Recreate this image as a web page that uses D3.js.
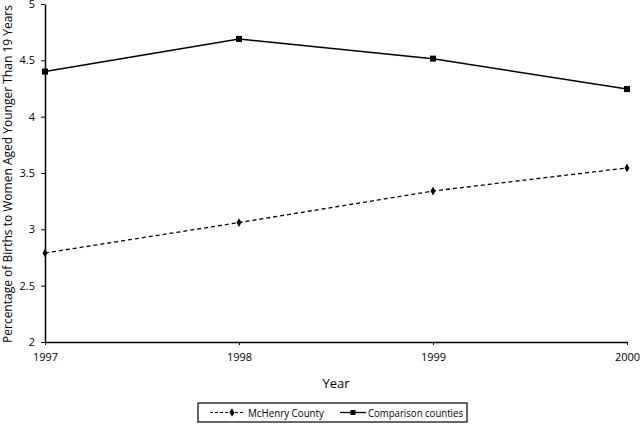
<!DOCTYPE html>
<html>
<head>
<meta charset="utf-8">
<script src="https://cdn.jsdelivr.net/npm/d3@7"></script>
<style>
  body { margin: 0; background: #fff; }
  text { font-family: "Open Sans", sans-serif; fill: #000; }
</style>
</head>
<body>
<div id="chart"></div>
<script>
// donnees
var years = [1997, 1998, 1999, 2000];
var mchenry = [2.79, 3.06, 3.34, 3.545];
var comparison = [4.40, 4.69, 4.515, 4.245];
var yTicks = [2, 2.5, 3, 3.5, 4, 4.5, 5];

const width = 640, height = 432;
const margin = { top: 4, right: 13, bottom: 90, left: 45 };

var svg = d3.select("#chart")
  .append("svg")
  .attr("width", width)
  .attr("height", height);

var x = d3.scaleLinear()
  .domain([1997, 2000])
  .range([margin.left, width - margin.right]);

var y = d3.scaleLinear()
  .domain([2, 5])
  .range([height - margin.bottom, margin.top]);

// axe x
var xAxis = svg.append("g")
  .attr("transform", "translate(0," + (height - margin.bottom) + ")")
  .call(d3.axisBottom(x).tickValues(years).tickFormat(d3.format("d")).tickSizeInner(3).tickSizeOuter(0).tickPadding(8));

// axe y
var yAxis = svg.append("g")
  .attr("transform", "translate(" + margin.left + ",0)")
  .call(d3.axisLeft(y).tickValues(yTicks).tickFormat(function (d) { return d; }).tickSizeInner(4).tickSizeOuter(0).tickPadding(6));

[xAxis, yAxis].forEach(function (a) {
  a.select(".domain").attr("stroke", "#000").attr("stroke-width", 1.5);
  a.selectAll(".tick line").attr("stroke", "#000");
  a.selectAll(".tick text").style("font-size", "11px").attr("fill", "#000");
});

// titres
svg.append("text")
  .attr("x", (x(1997) + x(2000)) / 2)
  .attr("y", 388)
  .attr("text-anchor", "middle")
  .style("font-size", "13px")
  .text("Year");

svg.append("text")
  .attr("transform", "translate(12," + ((y(2) + y(5)) / 2 + 1) + ") rotate(-90)")
  .attr("text-anchor", "middle")
  .attr("textLength", 338)
  .attr("lengthAdjust", "spacingAndGlyphs")
  .style("font-size", "12.5px")
  .text("Percentage of Births to Women Aged Younger Than 19 Years");

var line = d3.line()
  .x(function (d, i) { return x(years[i]); })
  .y(function (d) { return y(d); });

// series
svg.append("path")
  .datum(mchenry)
  .attr("d", line)
  .attr("fill", "none")
  .attr("stroke", "#000")
  .attr("stroke-width", 1.3)
  .attr("stroke-dasharray", "4,3");

svg.append("path")
  .datum(comparison)
  .attr("d", line)
  .attr("fill", "none")
  .attr("stroke", "#000")
  .attr("stroke-width", 1.5);

var diamond = d3.symbol().type(d3.symbolDiamond).size(22);

svg.selectAll(".pt1")
  .data(mchenry)
  .join("path")
  .attr("transform", function (d, i) { return "translate(" + x(years[i]) + "," + y(d) + ")"; })
  .attr("d", diamond)
  .attr("fill", "#000");

svg.selectAll(".pt2")
  .data(comparison)
  .join("rect")
  .attr("x", function (d, i) { return x(years[i]) - 3; })
  .attr("y", function (d) { return y(d) - 3; })
  .attr("width", 6)
  .attr("height", 6)
  .attr("fill", "#000");

// legende
var leg = svg.append("g").attr("transform", "translate(198,403)");
leg.append("rect")
  .attr("width", 269)
  .attr("height", 19)
  .attr("fill", "none")
  .attr("stroke", "#000")
  .attr("stroke-width", 1.2);

leg.append("line")
  .attr("x1", 12).attr("x2", 47).attr("y1", 9.5).attr("y2", 9.5)
  .attr("stroke", "#000").attr("stroke-dasharray", "3,2");
leg.append("path")
  .attr("transform", "translate(34,9.5)")
  .attr("d", diamond)
  .attr("fill", "#000");
leg.append("text")
  .attr("x", 50).attr("y", 13.5)
  .attr("textLength", 76)
  .attr("lengthAdjust", "spacingAndGlyphs")
  .style("font-size", "11.5px")
  .text("McHenry County");

leg.append("line")
  .attr("x1", 142).attr("x2", 168).attr("y1", 9.5).attr("y2", 9.5)
  .attr("stroke", "#000").attr("stroke-width", 1.3);
leg.append("rect")
  .attr("x", 152.5).attr("y", 7).attr("width", 5).attr("height", 5)
  .attr("fill", "#000");
leg.append("text")
  .attr("x", 170).attr("y", 13.5)
  .attr("textLength", 95)
  .attr("lengthAdjust", "spacingAndGlyphs")
  .style("font-size", "11.5px")
  .text("Comparison counties");
</script>
</body>
</html>
